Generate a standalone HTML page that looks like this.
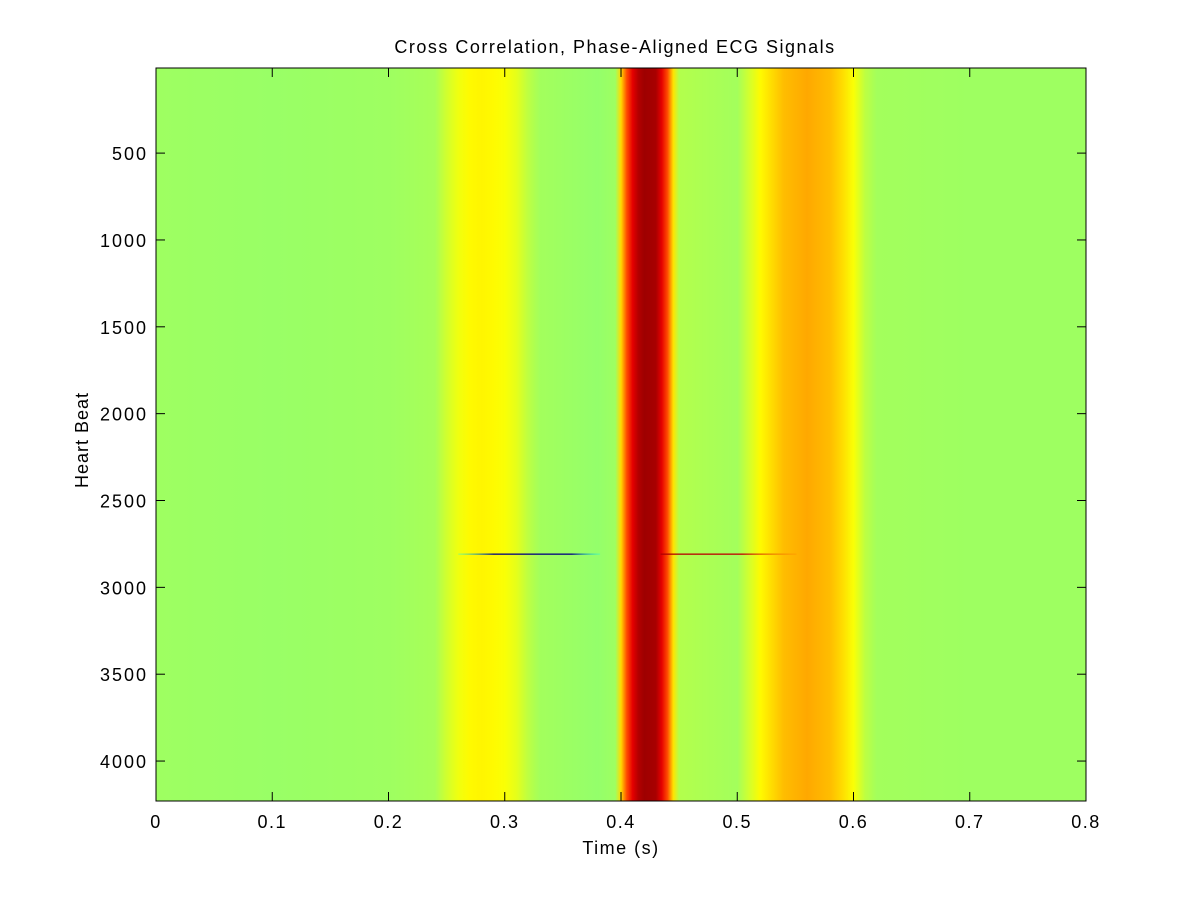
<!DOCTYPE html>
<html><head><meta charset="utf-8"><style>
html,body{margin:0;padding:0;background:#fff;}
svg text{font-family:"Liberation Sans",Arial,sans-serif;fill:#000;}
</style></head>
<body>
<svg id="chart" width="1200" height="900" xmlns="http://www.w3.org/2000/svg">
<rect width="1200" height="900" fill="#fff"/>
<defs><linearGradient id="prof" x1="0" x2="1" y1="0" y2="0"></linearGradient>
<linearGradient id="fadeB" x1="0" x2="1"><stop offset="0" stop-color="#00ffff" stop-opacity="0.3"/><stop offset="0.25" stop-color="#000080"/><stop offset="0.8" stop-color="#000080"/><stop offset="1" stop-color="#00ffff" stop-opacity="0.3"/></linearGradient>
<linearGradient id="fadeR" x1="0" x2="1"><stop offset="0" stop-color="#b00000"/><stop offset="0.6" stop-color="#c00000"/><stop offset="1" stop-color="#ff8000" stop-opacity="0.3"/></linearGradient>
</defs>
<g id="plot"></g>
<g id="axes"></g>
<text x="615" y="53" font-size="18" letter-spacing="1.5" text-anchor="middle">Cross Correlation, Phase-Aligned ECG Signals</text>
<text x="621" y="854" font-size="18" letter-spacing="1.5" text-anchor="middle">Time (s)</text>
<text transform="translate(88,440) rotate(-90)" font-size="18" letter-spacing="1" text-anchor="middle">Heart Beat</text>
</svg>
<script>
const times=[0,0.1,0.2,0.24,0.25,0.26,0.27,0.28,0.29,0.3,0.31,0.32,0.33,0.38,0.395,0.4,0.405,0.41,0.415,0.42,0.43,0.435,0.44,0.445,0.45,0.5,0.51,0.52,0.53,0.54,0.56,0.58,0.59,0.6,0.61,0.62,0.7,0.8];
const values=[0.53,0.525,0.53,0.54,0.58,0.61,0.63,0.635,0.63,0.62,0.6,0.56,0.535,0.52,0.53,0.66,0.8,0.9,0.95,0.97,0.96,0.9,0.8,0.65,0.55,0.535,0.58,0.63,0.66,0.69,0.71,0.69,0.66,0.62,0.56,0.535,0.53,0.53];
const xTicks=[0,0.1,0.2,0.3,0.4,0.5,0.6,0.7,0.8];
const yTicks=[500,1000,1500,2000,2500,3000,3500,4000];
const anomalyRow=2808;
const anomalyStart=[0.26,0.434];
const anomalyEnd=[0.382,0.551];
const anomalyFill=['url(#fadeB)','url(#fadeR)'];

const L=156,R=1086,T=68,B=801,xMin=0,xMax=0.8,yMin=10,yMax=4230;
const X=v=>L+(v-xMin)/(xMax-xMin)*(R-L);
const Y=v=>T+(v-yMin)/(yMax-yMin)*(B-T);
const NS="http://www.w3.org/2000/svg";
function jet(v){const c=x=>Math.round(255*Math.max(0,Math.min(1,x)));
 return `rgb(${c(1.5-Math.abs(4*v-3))},${c(1.5-Math.abs(4*v-2))},${c(1.5-Math.abs(4*v-1))})`;}
function mk(tag,attrs,parent){const e=document.createElementNS(NS,tag);for(const k in attrs)e.setAttribute(k,attrs[k]);parent.appendChild(e);return e;}
const grad=document.getElementById('prof');
times.forEach((t,i)=>{mk('stop',{offset:((t-xMin)/(xMax-xMin)).toFixed(4),'stop-color':jet(values[i])},grad);});
const plot=document.getElementById('plot');
const hm=mk('rect',{x:L,y:T,width:R-L,height:B-T,fill:'url(#prof)'},plot);


anomalyStart.forEach((s,i)=>{
 const ln=mk('rect',{x:X(s),width:X(anomalyEnd[i])-X(s),y:Y(anomalyRow)-0.5,height:1.3,fill:anomalyFill[i]},plot);
 
 
});
const axes=document.getElementById('axes');
const frame=mk('rect',{x:L,y:T,width:R-L,height:B-T,fill:'none',stroke:'#000','stroke-width':1},axes);


xTicks.forEach(v=>{const x=X(v);
 mk('line',{x1:x,x2:x,y1:B,y2:B-9,stroke:'#000'},axes);
 mk('line',{x1:x,x2:x,y1:T,y2:T+9,stroke:'#000'},axes);
 const t=mk('text',{x:x,y:B+27,'font-size':18,'letter-spacing':1.5,'text-anchor':'middle'},axes);t.textContent=String(v);
 
 
});
yTicks.forEach(v=>{const y=Y(v);
 mk('line',{x1:L,x2:L+9,y1:y,y2:y,stroke:'#000'},axes);
 mk('line',{x1:R,x2:R-9,y1:y,y2:y,stroke:'#000'},axes);
 const t=mk('text',{x:L-8,y:y+7,'font-size':18,'letter-spacing':2,'text-anchor':'end'},axes);t.textContent=String(v);
 
 
});
</script>
</body></html>
